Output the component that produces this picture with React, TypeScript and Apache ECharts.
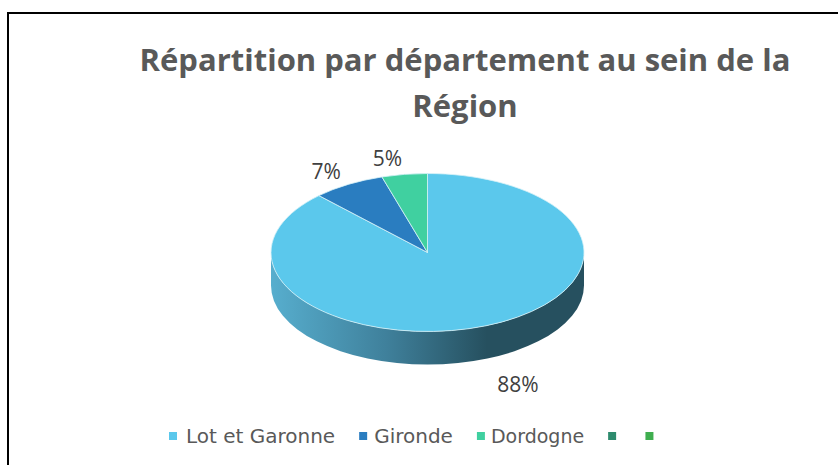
import React, { useEffect, useRef } from "react";
import * as echarts from "echarts";

const titleText = "Répartition par département au sein de la\nRégion";
const categories = ["Lot et Garonne", "Gironde", "Dordogne", " ", "  "];
const seriesValues = [87.8, 7.5, 4.7, 0, 0];
const labelTexts = ["88%", "7%", "5%", "", ""];
const colors = ["#5BC8EC", "#2A7DC0", "#40D0A0", "#2E8B6E", "#3FAE4F"];

const CX = 427.5;
const CY = 252.5;
const RX = 156.5;
const RY = 79;
const DEPTH = 33;
const LABEL_NUDGE = [
  [32, 58],
  [-22, -13],
  [-17, -16],
  [0, 0],
  [0, 0],
];
const LEGEND_TEXT_STYLES = [
  { fontSize: 20, padding: [0, 0, 0, 4] },
  { fontSize: 20, padding: [0, 0, 0, 2] },
  { fontSize: 19, padding: [0, 0, 0, 1] },
  { fontSize: 1, padding: 0 },
  { fontSize: 1, padding: 0 },
];

const total = seriesValues.reduce((a, b) => a + b, 0);
const pt = (deg: number, dy = 0) => {
  const r = (deg * Math.PI) / 180;
  return [CX + RX * Math.sin(r), CY - RY * Math.cos(r) + dy];
};
const f = (n: number) => n.toFixed(2);

function makeRender(index: number) {
  return () => {
    const value = seriesValues[index];
    if (!value) return { type: "group", children: [] };
    const before = seriesValues.slice(0, index).reduce((a, b) => a + b, 0);
    const a0 = (before / total) * 360;
    const a1 = ((before + value) / total) * 360;
    const children: any[] = [];

    const w0 = Math.max(a0, 90);
    const w1 = Math.min(a1, 270);
    if (w1 > w0) {
      const s = pt(w0);
      const e = pt(w1);
      const d =
        `M${f(s[0])} ${f(s[1])} A${RX} ${RY} 0 0 1 ${f(e[0])} ${f(e[1])} ` +
        `L${f(e[0])} ${f(e[1] + DEPTH)} A${RX} ${RY} 0 0 0 ${f(s[0])} ${f(s[1] + DEPTH)} Z`;
      children.push({
        type: "path",
        shape: { pathData: d },
        style: {
          fill: new echarts.graphic.LinearGradient(0, 0, 1, 0, [
            { offset: 0, color: "#57AECE" },
            { offset: 0.37, color: "#3F809B" },
            { offset: 0.69, color: "#26505F" },
            { offset: 1, color: "#26505F" },
          ]),
          stroke: "none",
        },
      });
    }

    const s = pt(a0);
    const e = pt(a1);
    const large = a1 - a0 > 180 ? 1 : 0;
    children.push({
      type: "path",
      shape: {
        pathData: `M${CX} ${CY} L${f(s[0])} ${f(s[1])} A${RX} ${RY} 0 ${large} 1 ${f(e[0])} ${f(e[1])} Z`,
      },
      style: { fill: colors[index], stroke: "#D5F1F8", lineWidth: 0.8 },
    });

    const mid = pt((a0 + a1) / 2);
    children.push({
      type: "text",
      style: {
        x: mid[0] + LABEL_NUDGE[index][0],
        y: mid[1] + LABEL_NUDGE[index][1],
        text: labelTexts[index],
        fill: "#404040",
        font: '21px "Open Sans"',
        align: "center",
        verticalAlign: "middle",
      },
    });
    return { type: "group", children };
  };
}

export default function App() {
  const ref = useRef<HTMLDivElement>(null);
  useEffect(() => {
    document.body.style.margin = "0";
    const chart = echarts.init(ref.current!, null, { renderer: "svg" });
    chart.setOption({
      animation: false,
      backgroundColor: "#FFFFFF",
      title: {
        text: titleText,
        left: 460,
        top: 31,
        textAlign: "center",
        textStyle: {
          fontFamily: "Open Sans",
          fontWeight: 700,
          fontSize: 31,
          lineHeight: 46,
          color: "#595959",
        },
      },
      legend: {
        left: 164,
        top: 421,
        orient: "horizontal",
        selectedMode: false,
        itemWidth: 8,
        itemHeight: 8,
        itemGap: 24,
        icon: "rect",
        textStyle: {
          fontFamily: "DejaVu Sans",
          fontSize: 20,
          color: "#595959",
        },
        data: categories.map((name, i) => ({ name, textStyle: LEGEND_TEXT_STYLES[i] })),
      },
      graphic: [
        { type: "line", shape: { x1: 8, y1: 13, x2: 838, y2: 13 }, style: { stroke: "#000", lineWidth: 2 } },
        { type: "line", shape: { x1: 8, y1: 12, x2: 8, y2: 465 }, style: { stroke: "#000", lineWidth: 2 } },
      ],
      series: categories.map((name, i) => ({
        type: "custom",
        name,
        coordinateSystem: "none",
        silent: true,
        itemStyle: { color: colors[i] },
        data: [[seriesValues[i]]],
        renderItem: makeRender(i),
      })),
    });
    return () => chart.dispose();
  }, []);
  return <div ref={ref} style={{ width: 838, height: 465 }} />;
}
